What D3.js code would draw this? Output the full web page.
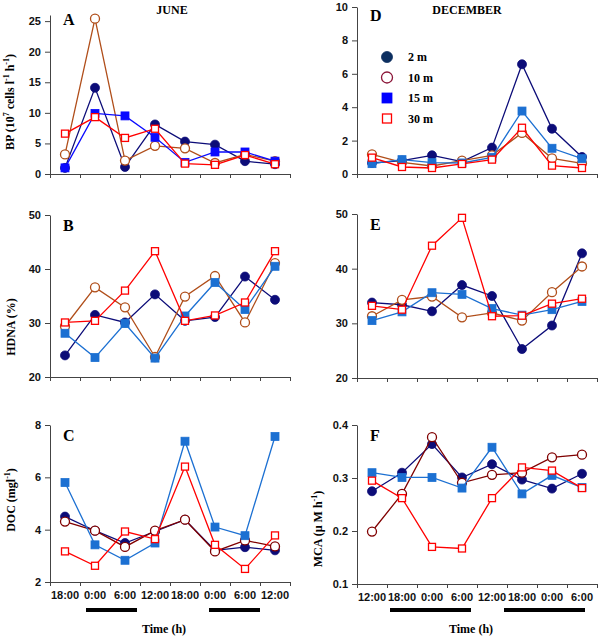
<!DOCTYPE html>
<html>
<head>
<meta charset="utf-8">
<script src="https://cdn.jsdelivr.net/npm/d3@7"></script>
<style>
  body { margin: 0; background: #fff; }
  svg { display: block; }
</style>
</head>
<body>
<script>
// sampling times
const timesJune = ['18:00', '0:00', '6:00', '12:00', '18:00', '0:00', '6:00', '12:00']
const timesDec = ['12:00', '18:00', '0:00', '6:00', '12:00', '18:00', '0:00', '6:00']
const depths = ['2 m', '10 m', '15 m', '30 m']

// night periods, in sample steps from the first sample
const nightJune = [[0.7, 2.4], [4.8, 6.5]]
const nightDec = [[0.6, 3.3], [4.4, 7.1]]

// A: BP June
const bpJune2 = [1.0, 14.1, 1.15, 8.1, 5.3, 4.8, 2.1, 1.6]
const bpJune10 = [3.2, 25.4, 2.2, 4.6, 4.2, 1.8, 3.2, 2.1]
const bpJune15 = [1.0, 9.9, 9.5, 6.0, 1.9, 3.6, 3.6, 2.1]
const bpJune30 = [6.6, 9.3, 5.9, 7.4, 1.7, 1.5, 3.1, 1.6]

// D: BP December
const bpDec2 = [0.66, 0.8, 1.12, 0.74, 1.58, 6.57, 2.71, 1.02]
const bpDec10 = [1.18, 0.7, 0.48, 0.8, 1.12, 2.46, 0.94, 0.64]
const bpDec15 = [0.62, 0.86, 0.68, 0.66, 1.0, 3.77, 1.54, 0.92]
const bpDec30 = [0.98, 0.42, 0.36, 0.6, 0.86, 2.77, 0.5, 0.36]

// B: HDNA June
const hdnaJune2 = [24.0, 31.5, 30.1, 35.3, 30.4, 31.1, 38.6, 34.3]
const hdnaJune10 = [29.4, 36.6, 32.9, 23.7, 34.9, 38.7, 30.1, 41.1]
const hdnaJune15 = [28.1, 23.6, 29.9, 23.5, 31.3, 37.5, 32.5, 40.5]
const hdnaJune30 = [30.1, 30.4, 36.0, 43.3, 30.4, 31.4, 33.8, 43.3]

// E: HDNA December
const hdnaDec2 = [33.8, 33.4, 32.2, 37.0, 35.0, 25.3, 29.6, 42.8]
const hdnaDec10 = [31.3, 34.3, 34.9, 31.1, 31.9, 30.5, 35.7, 40.4]
const hdnaDec15 = [30.5, 32.1, 35.6, 35.3, 32.7, 31.5, 32.5, 34.0]
const hdnaDec30 = [33.2, 32.5, 44.2, 49.3, 31.3, 31.4, 33.6, 34.5]

// C: DOC June
const docJune2 = [4.50, 3.96, 3.49, 3.93, 4.38, 3.21, 3.33, 3.21]
const docJune10 = [4.31, 3.96, 3.34, 3.96, 4.38, 3.17, 3.59, 3.36]
const docJune15 = [5.80, 3.42, 2.83, 3.49, 7.38, 4.10, 3.77, 7.56]
const docJune30 = [3.17, 2.62, 3.93, 3.64, 6.41, 3.42, 2.50, 3.78]

// F: MCA December
const mcaDec2 = [0.275, 0.310, 0.364, 0.301, 0.326, 0.297, 0.280, 0.308]
const mcaDec10 = [0.199, 0.270, 0.377, 0.291, 0.306, 0.310, 0.339, 0.344]
const mcaDec15 = [0.310, 0.301, 0.301, 0.281, 0.358, 0.270, 0.305, 0.282]
const mcaDec30 = [0.295, 0.262, 0.170, 0.167, 0.262, 0.320, 0.314, 0.281]

const W = 602
const H = 637
const NAVY = '#0c0c78'
const BROWN = '#b04e1a'
const MAROON = '#800000'
const BLUE = '#1c70d2'
const RED = '#ff0000'

const svg = d3.select('body').append('svg')
  .attr('width', W)
  .attr('height', H)
  .style('font-family', 'Liberation Sans, Arial, sans-serif')

const panels = [
  {
    letter: 'A', title: 'JUNE', x0: 50, x1: 290, yb: 174, yt: 15, dom: [0, 26], ticks: [0, 5, 10, 15, 20, 25],
    series: [bpJune2, bpJune10, bpJune15, bpJune30], colors: [NAVY, BROWN, '#0a0aff', RED],
    label: [['BP (10'], ['7', 1], [' cells l'], ['-1', 1], [' h'], ['-1', 1], [')']], labelX: 14, labelY: 102
  },
  {
    letter: 'D', title: 'DECEMBER', x0: 357, x1: 597, yb: 174, yt: 7, dom: [0, 10], ticks: [0, 2, 4, 6, 8, 10],
    series: [bpDec2, bpDec10, bpDec15, bpDec30], colors: [NAVY, BROWN, BLUE, RED], legend: true
  },
  {
    letter: 'B', x0: 50, x1: 290, yb: 377, yt: 215, dom: [20, 50], ticks: [20, 30, 40, 50],
    series: [hdnaJune2, hdnaJune10, hdnaJune15, hdnaJune30], colors: [NAVY, BROWN, BLUE, RED],
    label: [['HDNA (%)']], labelX: 15, labelY: 327
  },
  {
    letter: 'E', x0: 357, x1: 597, yb: 378, yt: 214, dom: [20, 50], ticks: [20, 30, 40, 50],
    series: [hdnaDec2, hdnaDec10, hdnaDec15, hdnaDec30], colors: [NAVY, BROWN, BLUE, RED]
  },
  {
    letter: 'C', x0: 50, x1: 290, yb: 582, yt: 425, dom: [2, 8], ticks: [2, 4, 6, 8],
    series: [docJune2, docJune10, docJune15, docJune30], colors: [NAVY, MAROON, BLUE, RED],
    label: [['DOC (mgl'], ['-1', 1], [')']], labelX: 15, labelY: 500,
    times: timesJune, nights: nightJune
  },
  {
    letter: 'F', x0: 357, x1: 597, yb: 584, yt: 425, dom: [0.1, 0.4], ticks: [0.1, 0.2, 0.3, 0.4],
    series: [mcaDec2, mcaDec10, mcaDec15, mcaDec30], colors: [NAVY, MAROON, BLUE, RED],
    label: [['MCA (\u00b5 M h'], ['-1', 1], [')']], labelX: 322, labelY: 529,
    times: timesDec, nights: nightDec
  }
]

// marker shapes: filled circle, open circle, filled square, open square
function marker (g, kind, color, cx, cy, size) {
  if (kind === 0 || kind === 1) {
    g.append('circle')
      .attr('cx', cx).attr('cy', cy).attr('r', size / 2)
      .attr('fill', kind === 0 ? color : '#fff')
      .attr('stroke', color)
      .attr('stroke-width', kind === 0 ? 0.8 : 1.3)
  } else {
    const s = kind === 2 ? size - 1 : size - 2
    g.append('rect')
      .attr('x', cx - s / 2).attr('y', cy - s / 2)
      .attr('width', s).attr('height', s)
      .attr('fill', kind === 2 ? color : '#fff')
      .attr('stroke', color)
      .attr('stroke-width', kind === 2 ? 0.8 : 1.3)
  }
}

function addRotLabel (parts, x, y) {
  const t = svg.append('text')
    .attr('transform', 'translate(' + x + ',' + y + ') rotate(-90)')
    .attr('text-anchor', 'middle')
    .style('font-family', 'Liberation Serif, Times New Roman, serif')
    .style('font-weight', 'bold')
    .style('font-size', '12px')
  let up = false
  parts.forEach(function (p) {
    const ts = t.append('tspan').text(p[0])
    if (p[1]) {
      ts.attr('font-size', '8px').attr('dy', up ? 0 : -5)
      up = true
    } else {
      ts.attr('dy', up ? 5 : 0)
      up = false
    }
  })
}

panels.forEach(function (p) {
  const n = p.series[0].length
  const xl = d3.scaleLinear().domain([0, n]).range([p.x0, p.x1])
  const px = function (i) { return xl(i + 0.5) }
  const y = d3.scaleLinear().domain(p.dom).range([p.yb, p.yt])

  // axes
  const ax = svg.append('g')
    .attr('transform', 'translate(0,' + p.yb + ')')
    .call(d3.axisBottom(xl).tickValues(d3.range(n + 1)).tickFormat('').tickSize(4).tickSizeOuter(0))
  const ay = svg.append('g')
    .attr('transform', 'translate(' + p.x0 + ',0)')
    .call(d3.axisLeft(y).tickValues(p.ticks).tickFormat(d3.format('~g'))
      .tickSize(5).tickSizeOuter(0).tickPadding(4))
  ;[ax, ay].forEach(function (a) {
    a.selectAll('path, line').attr('stroke', '#444')
    a.selectAll('text')
      .attr('fill', '#111')
      .style('font-family', 'Liberation Sans, Arial, sans-serif')
      .style('font-weight', 'bold')
      .style('font-size', '11px')
  })

  // series
  const line = d3.line().x(function (d, i) { return px(i) }).y(function (d) { return y(d) })
  p.series.forEach(function (vals, k) {
    const g = svg.append('g')
    g.append('path')
      .datum(vals)
      .attr('d', line)
      .attr('fill', 'none')
      .attr('stroke', p.colors[k])
      .attr('stroke-width', 1.3)
    vals.forEach(function (v, i) {
      marker(g, k, p.colors[k], px(i), y(v), 9)
    })
  })

  // panel letter and title
  svg.append('text')
    .attr('x', p.x0 + 13)
    .attr('y', p.yt + (p.letter === 'A' ? 10 : p.letter === 'D' ? 14 : 16))
    .style('font-family', 'Liberation Serif, Times New Roman, serif')
    .style('font-weight', 'bold')
    .style('font-size', '16px')
    .text(p.letter)
  if (p.title) {
    svg.append('text')
      .attr('x', (p.x0 + p.x1) / 2 + (p.x0 > 300 ? -10 : 2))
      .attr('y', 14)
      .attr('text-anchor', 'middle')
      .style('font-family', 'Liberation Serif, Times New Roman, serif')
      .style('font-weight', 'bold')
      .style('font-size', '12px')
      .text(p.title)
  }

  if (p.label) addRotLabel(p.label, p.labelX, p.labelY)

  // time labels, night bars, axis title
  if (p.times) {
    svg.append('g').selectAll('text')
      .data(p.times)
      .enter().append('text')
      .attr('x', function (d, i) { return px(i) })
      .attr('y', p.yb + 17)
      .attr('text-anchor', 'middle')
      .style('font-weight', 'bold')
      .style('font-size', '11px')
      .attr('fill', '#111')
      .text(function (d) { return d })
    svg.append('g').selectAll('rect')
      .data(p.nights)
      .enter().append('rect')
      .attr('x', function (d) { return px(d[0]) })
      .attr('width', function (d) { return px(d[1]) - px(d[0]) })
      .attr('y', 608)
      .attr('height', 4)
      .attr('fill', '#000')
    svg.append('text')
      .attr('x', (p.x0 + p.x1) / 2 - 6)
      .attr('y', 633)
      .attr('text-anchor', 'middle')
      .style('font-family', 'Liberation Serif, Times New Roman, serif')
      .style('font-weight', 'bold')
      .style('font-size', '12px')
      .text('Time (h)')
  }

  if (p.legend) {
    const lg = svg.append('g')
    const legColors = ['#0c2f60', '#8b1538', '#0000ff', RED]
    depths.forEach(function (d, k) {
      const cy = 57 + k * 20.5
      marker(lg, k, legColors[k], 387, cy, 11)
      lg.append('text')
        .attr('x', 408)
        .attr('y', cy + 4)
        .style('font-family', 'Liberation Serif, Times New Roman, serif')
        .style('font-weight', 'bold')
        .style('font-size', '12px')
        .text(d)
    })
  }
})
</script>
</body>
</html>
